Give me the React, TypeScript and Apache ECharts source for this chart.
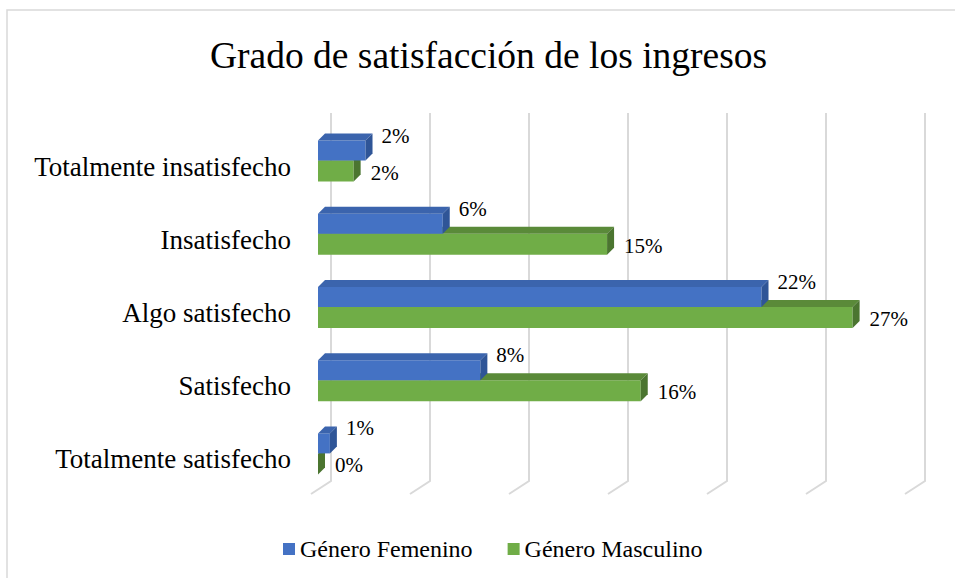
import React, { useEffect, useRef } from "react";
import * as echarts from "echarts";

const titleText = "Grado de satisfacción de los ingresos";
const categories = [
  "Totalmente insatisfecho",
  "Insatisfecho",
  "Algo satisfecho",
  "Satisfecho",
  "Totalmente satisfecho",
];
const seriesNames = ["Género Femenino", "Género Masculino"];
const femenino = [2.4, 6.3, 22.4, 8.2, 0.6];
const masculino = [1.8, 14.6, 27.0, 16.3, 0];
const xTicks = [0, 5, 10, 15, 20, 25, 30];

const FONT = "Liberation Serif";

function makeBarRenderer(isTop: boolean, front: string, topC: string, side: string) {
  return (params: any, api: any) => {
    const v = api.value(0);
    const ci = api.value(1);
    const p0 = api.coord([0, ci]);
    const p1 = api.coord([v, ci]);
    const x0 = p0[0];
    const c = p0[1];
    const x1 = p1[0];
    const band = api.size([0, 1])[1];
    const yA = isTop ? c - 0.355 * band : c - 0.082 * band;
    const yB = isTop ? c - 0.082 * band : c + 0.205 * band;
    const d = 7;
    const children: any[] = [];
    if (x1 - x0 > 0.5) {
      children.push({
        type: "rect",
        shape: { x: x0, y: yA, width: x1 - x0, height: yB - yA },
        style: { fill: front },
      });
      children.push({
        type: "polygon",
        shape: { points: [[x0, yA], [x0 + d, yA - d], [x1 + d, yA - d], [x1, yA]] },
        style: { fill: topC },
      });
    }
    children.push({
      type: "polygon",
      shape: { points: [[x1, yA], [x1 + d, yA - d], [x1 + d, yB - d], [x1, yB]] },
      style: { fill: side },
    });
    children.push({
      type: "text",
      style: {
        text: Math.round(v) + "%",
        x: x1 + (isTop ? 16 : 17),
        y: isTop ? c - 31 : c + 6,
        fill: "#000",
        fontFamily: FONT,
        fontSize: 21,
        align: "left",
        verticalAlign: "middle",
      },
    });
    return { type: "group", children };
  };
}

export default function App() {
  const ref = useRef<HTMLDivElement>(null);
  useEffect(() => {
    if (!ref.current) return;
    const chart = echarts.init(ref.current, undefined, { renderer: "svg" });
    const option: any = {
      animation: false,
      backgroundColor: "#fff",
      textStyle: { fontFamily: FONT },
      title: {
        text: titleText,
        left: 210,
        top: 36,
        padding: 0,
        textStyle: { fontFamily: FONT, fontSize: 37.5, fontWeight: "normal", color: "#000" },
      },
      legend: {
        data: seriesNames,
        left: 283,
        top: 537,
        padding: 0,
        icon: "rect",
        itemWidth: 12,
        itemHeight: 12,
        itemGap: 35,
        textStyle: { fontFamily: FONT, fontSize: 24, color: "#000" },
      },
      graphic: [
        {
          type: "rect",
          shape: { x: 7, y: 10, width: 1200, height: 1000 },
          style: { fill: "none", stroke: "#D9D9D9", lineWidth: 1.5 },
          silent: true,
        },
      ],
      grid: { left: 318, right: 43, top: 130, bottom: 82 },
      xAxis: {
        type: "value",
        min: 0,
        max: 30,
        interval: 5,
        axisLabel: { show: false },
        axisLine: { show: false },
        axisTick: { show: false },
        splitLine: { show: false },
      },
      yAxis: {
        type: "category",
        data: categories,
        inverse: true,
        axisLine: { show: false },
        axisTick: { show: false },
        axisLabel: { margin: 27, fontFamily: FONT, fontSize: 27, color: "#000" },
      },
      series: [
        {
          name: "grid",
          type: "custom",
          silent: true,
          data: xTicks.map((t) => [t, 0]),
          encode: { x: 0, y: 1 },
          renderItem: (params: any, api: any) => {
            const x = api.coord([api.value(0), 0])[0];
            const cs = params.coordSys;
            const top = cs.y - 17;
            const bot = cs.y + cs.height - 15;
            return {
              type: "polyline",
              shape: { points: [[x + 13, top], [x + 13, bot], [x - 7, bot + 13]] },
              style: { stroke: "#D9D9D9", lineWidth: 2, fill: "none" },
            };
          },
          z: 1,
        },
        {
          name: seriesNames[1],
          type: "custom",
          data: masculino.map((v, i) => [v, i]),
          encode: { x: 0, y: 1 },
          itemStyle: { color: "#70AD47" },
          renderItem: makeBarRenderer(false, "#70AD47", "#5A8A39", "#4B7530"),
          z: 2,
        },
        {
          name: seriesNames[0],
          type: "custom",
          data: femenino.map((v, i) => [v, i]),
          encode: { x: 0, y: 1 },
          itemStyle: { color: "#4472C4" },
          renderItem: makeBarRenderer(true, "#4472C4", "#3B64AD", "#2F5597"),
          z: 3,
        },
      ],
    };
    chart.setOption(option);
    return () => chart.dispose();
  }, []);
  return (
    <div
      ref={ref}
      style={{ position: "fixed", left: 0, top: 0, width: 955, height: 578 }}
    />
  );
}
